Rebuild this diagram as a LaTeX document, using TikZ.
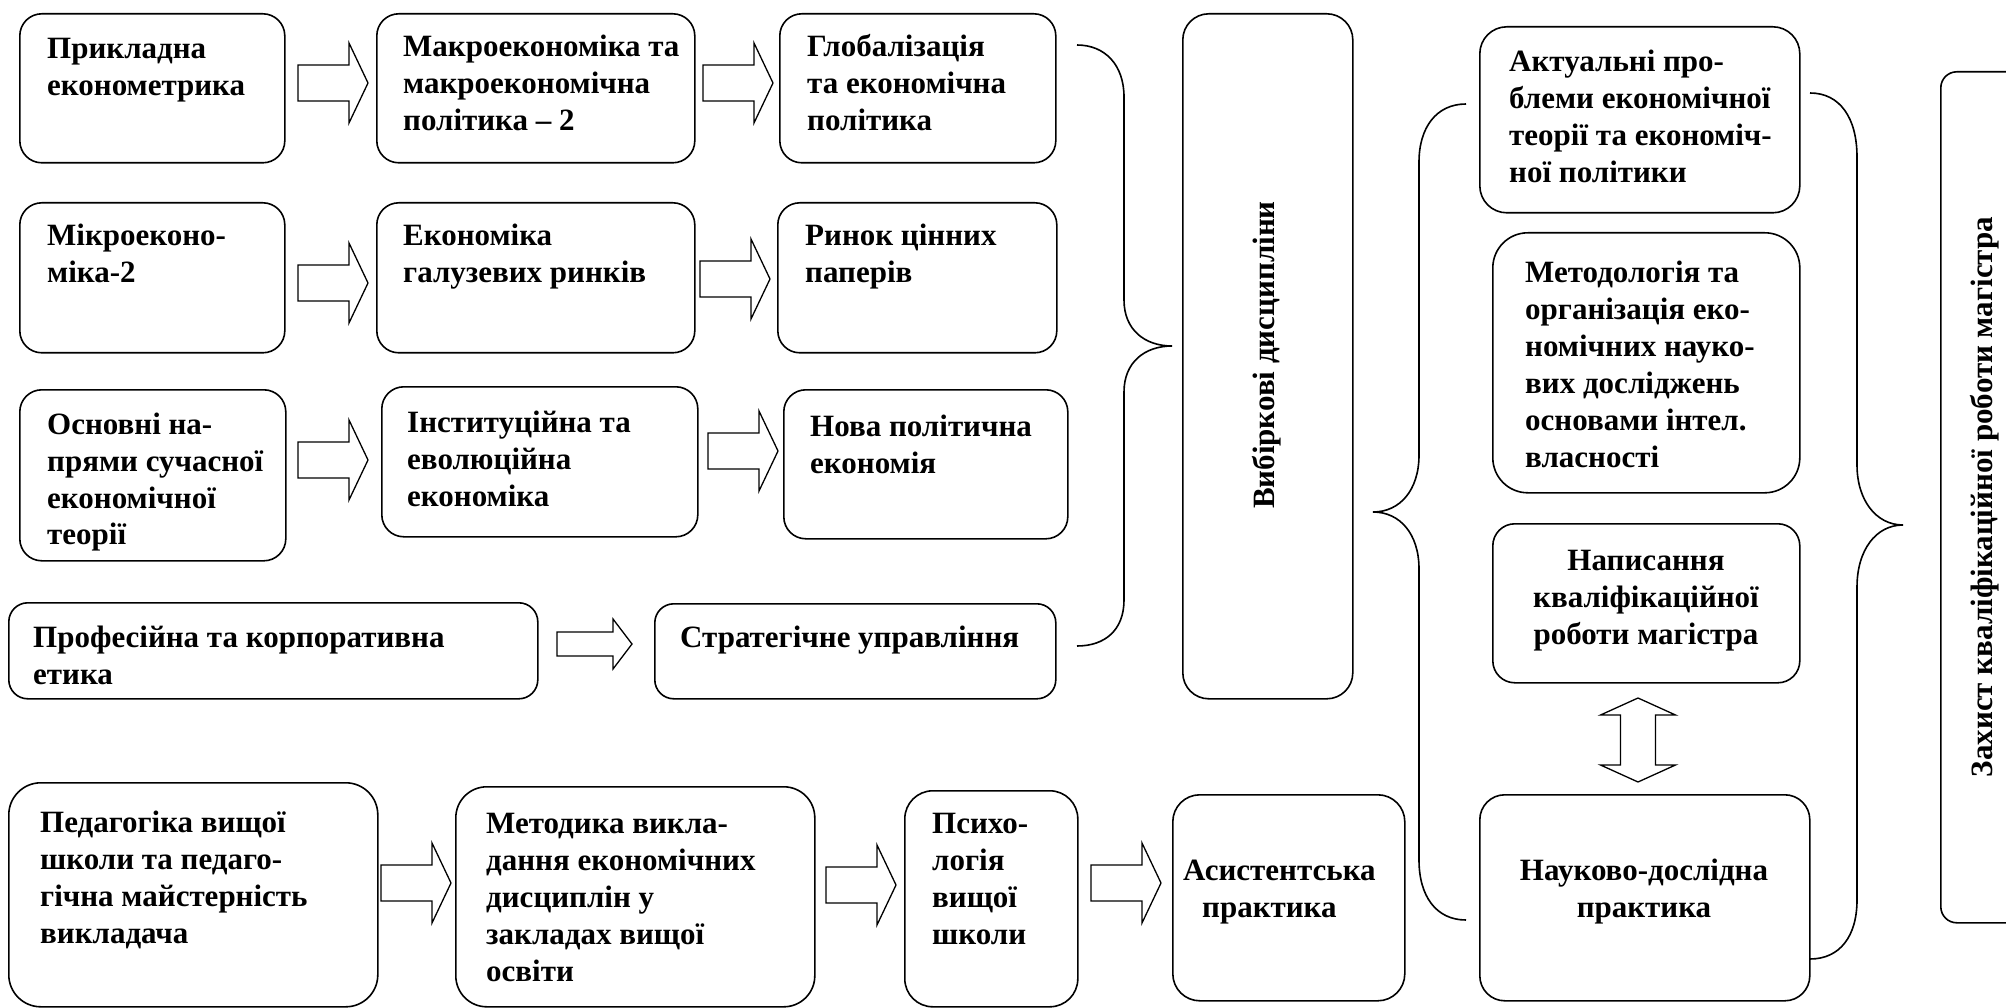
\documentclass[tikz,border=0pt]{standalone}
\usepackage{fontspec}
\setmainfont{Liberation Serif}
\newcommand\tbf{\fontsize{31}{37}\selectfont\bfseries}
\newcommand\ltab[1]{\begin{tabular}[t]{@{}l@{}}#1\end{tabular}}
\newcommand\ctab[1]{\begin{tabular}[t]{@{}c@{}}#1\end{tabular}}
\begin{document}
\begin{tikzpicture}[x=1pt,y=-1pt,
  box/.style={draw, line width=1.6pt, rounded corners=#1, inner sep=0, anchor=north west},
  txt/.style={inner sep=0, anchor=base west, font=\tbf},
  ctxt/.style={inner sep=0, anchor=base, font=\tbf},
  vtxt/.style={inner sep=0, rotate=90, font=\tbf},
  brace/.style={draw, line width=1.6pt},
  barrow/.pic={\draw[line width=1.3pt, line join=miter] (0,-18) -- (51,-18) -- (51,-40) -- (70,0) -- (51,40) -- (51,18) -- (0,18) -- cycle;},
  sbarrow/.pic={\draw[line width=1.3pt, line join=miter] (0,-12) -- (56,-12) -- (56,-25) -- (75,0) -- (56,25) -- (56,12) -- (0,12) -- cycle;},
  dbarrow/.pic={\draw[line width=1.3pt, line join=miter] (0,-42) -- (37.5,-25) -- (17.5,-25) -- (17.5,25) -- (37.5,25) -- (0,42) -- (-37.5,25) -- (-17.5,25) -- (-17.5,-25) -- (-37.5,-25) -- cycle;}
]
\useasboundingbox (0,0) rectangle (2006,1008);

% boxes
\node[box=22, minimum width=265pt, minimum height=149pt] (a1) at (19,13) {};
\node[box=22, minimum width=318pt, minimum height=149pt] (a2) at (376,13) {};
\node[box=22, minimum width=276pt, minimum height=149pt] (a3) at (779,13) {};
\node[box=22, minimum width=265pt, minimum height=150pt] (b1) at (19,202) {};
\node[box=22, minimum width=318pt, minimum height=150pt] (b2) at (376,202) {};
\node[box=22, minimum width=279pt, minimum height=150pt] (b3) at (777,202) {};
\node[box=22, minimum width=266pt, minimum height=171pt] (c1) at (19,389) {};
\node[box=22, minimum width=316pt, minimum height=150pt] (c2) at (381,386) {};
\node[box=22, minimum width=284pt, minimum height=149pt] (c3) at (783,389) {};
\node[box=19, minimum width=529pt, minimum height=96pt] (d1) at (8,602) {};
\node[box=19, minimum width=401pt, minimum height=95pt] (d2) at (654,603) {};
\node[box=26, minimum width=170pt, minimum height=685pt] (vyb) at (1182,13) {};
\node[box=32, minimum width=369pt, minimum height=224pt] (e1) at (8,782) {};
\node[box=31, minimum width=359pt, minimum height=220pt] (e2) at (455,786) {};
\node[box=28, minimum width=173pt, minimum height=216pt] (e3) at (904,790) {};
\node[box=27, minimum width=232pt, minimum height=206pt] (e4) at (1172,794) {};
\node[box=27, minimum width=320pt, minimum height=186pt] (f1) at (1479,26) {};
\node[box=35, minimum width=307pt, minimum height=260pt] (f2) at (1492,232) {};
\node[box=22, minimum width=307pt, minimum height=159pt] (f3) at (1492,523) {};
\node[box=25, minimum width=330pt, minimum height=206pt] (f4) at (1479,794) {};
\node[box=16, minimum width=110pt, minimum height=851pt] (g) at (1940,71) {};

% texts
\node[txt] (a1t) at (47,59) {\ltab{Прикладна\\економетрика}};
\node[txt] (a2t) at (403,57) {\ltab{Макроекономіка та\\макроекономічна\\політика – 2}};
\node[txt] (a3t) at (807,57) {\ltab{Глобалізація\\та економічна\\політика}};
\node[txt] (b1t) at (47,246) {\ltab{Мікроеконо-\\міка-2}};
\node[txt] (b2t) at (403,246) {\ltab{Економіка\\галузевих ринків}};
\node[txt] (b3t) at (805,246) {\ltab{Ринок цінних\\паперів}};
\node[txt] (c1t) at (47,434) {\ltab{Основні на-\\прями сучасної\\економічної\\теорії}};
\node[txt] (c2t) at (407,432) {\ltab{Інституційна та\\еволюційна\\економіка}};
\node[txt] (c3t) at (810,436) {\ltab{Нова політична\\економія}};
\node[txt] (d1t) at (33,647) {\ltab{Професійна та корпоративна\\етика}};
\node[txt] (d2t) at (680,647) {\ltab{Стратегічне управління}};
\node[txt] (e1t) at (40,832) {\ltab{Педагогіка вищої\\школи та педаго-\\гічна майстерність\\викладача}};
\node[txt] (e2t) at (486,833) {\ltab{Методика викла-\\дання економічних\\дисциплін у\\закладах вищої\\освіти}};
\node[txt] (e3t) at (932,833) {\ltab{Психо-\\логія\\вищої\\школи}};
\node[txt] (e4t) at (1183,880) {\ltab{Асистентська\\\hspace*{19pt}практика}};
\node[txt] (f1t) at (1509,72) {\ltab{Актуальні про-\\блеми економічної\\теорії та економіч-\\ної політики}};
\node[txt] (f2t) at (1525,283) {\ltab{Методологія та\\організація еко-\\номічних науко-\\вих досліджень\\основами інтел.\\власності}};
\node[ctxt] (f3t) at (1646,570) {\ctab{Написання\\кваліфікаційної\\роботи магістра}};
\node[ctxt] (f4t) at (1644,880) {\ctab{Науково-дослідна\\практика}};
\node[vtxt] (vybt) at (1267,355) {Вибіркові дисципліни};
\node[vtxt] (gt) at (1985,497) {Захист кваліфікаційної роботи магістра};

% block arrows
\pic at (298,83) {barrow};
\pic at (703,83) {barrow};
\pic at (298,283) {barrow};
\pic at (700,279) {barrow};
\pic at (298,460) {barrow};
\pic at (708,451) {barrow};
\pic at (557,644) {sbarrow};
\pic at (381,883) {barrow};
\pic at (826,885) {barrow};
\pic at (1091,883) {barrow};
\pic at (1638,740) {dbarrow};

% braces
\path[brace] (1077,45) .. controls (1105,45) and (1124,65) .. (1124,97) -- (1124,300)
  .. controls (1124,330) and (1145,346) .. (1172,346)
  .. controls (1145,346) and (1124,362) .. (1124,392) -- (1124,600)
  .. controls (1124,630) and (1105,646) .. (1077,646);
\path[brace] (1466,104) .. controls (1436,104) and (1419,128) .. (1419,162) -- (1419,455)
  .. controls (1419,490) and (1400,512) .. (1373,512)
  .. controls (1400,512) and (1419,534) .. (1419,569) -- (1419,860)
  .. controls (1419,896) and (1436,920) .. (1466,920);
\path[brace] (1810,93) .. controls (1840,93) and (1857,118) .. (1857,157) -- (1857,465)
  .. controls (1857,500) and (1876,525) .. (1903,525)
  .. controls (1876,525) and (1857,550) .. (1857,587) -- (1857,900)
  .. controls (1857,936) and (1840,959) .. (1810,959);
\end{tikzpicture}
\end{document}
